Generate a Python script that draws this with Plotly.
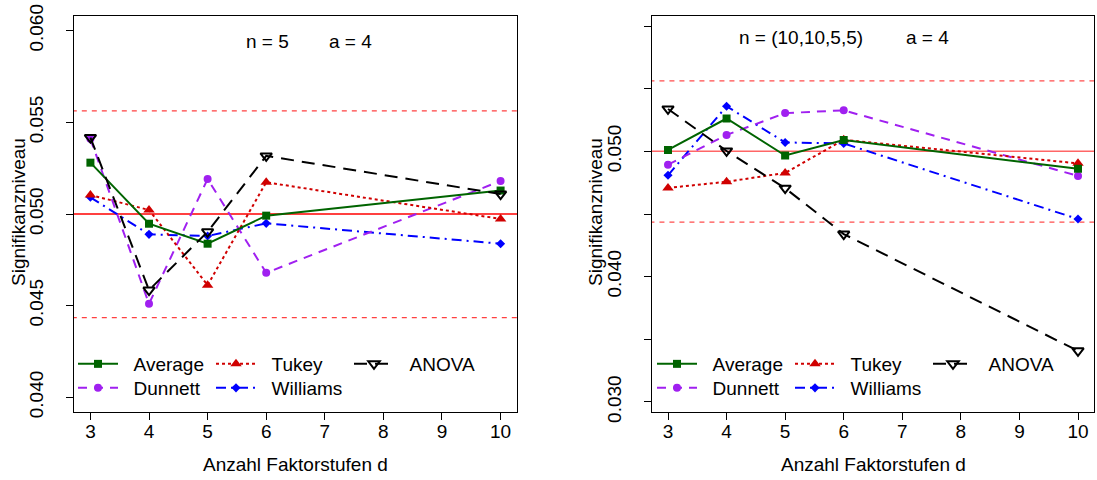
import plotly.graph_objects as go

# Number of factor levels d
d_levels = [3, 4, 5, 6, 10]

# Left panel: n = 5, a = 4
left_average = [0.05280, 0.04947, 0.04838, 0.04991, 0.05128]
left_tukey = [0.05104, 0.05022, 0.04612, 0.05173, 0.04973]
left_anova = [0.05417, 0.04585, 0.04903, 0.05317, 0.05109]
left_dunnett = [0.05410, 0.04510, 0.05191, 0.04679, 0.05180]
left_williams = [0.05091, 0.04889, 0.04880, 0.04949, 0.04838]

# Right panel: n = (10,10,5,5), a = 4
right_average = [0.05011, 0.05262, 0.04967, 0.05090, 0.04861]
right_tukey = [0.04708, 0.04757, 0.04828, 0.05092, 0.04904]
right_anova = [0.05338, 0.05003, 0.04706, 0.04340, 0.03408]
right_dunnett = [0.04894, 0.05131, 0.05305, 0.05327, 0.04804]
right_williams = [0.04809, 0.05360, 0.05071, 0.05063, 0.04460]

# Nominal level and acceptance band
alpha = 0.05
band = [0.04435, 0.05563]

x_ticks = [3, 4, 5, 6, 7, 8, 9, 10]
left_yticks = [0.040, 0.045, 0.050, 0.055, 0.060]
left_yticktext = ["0.040", "0.045", "0.050", "0.055", "0.060"]
right_yticks = [0.030, 0.035, 0.040, 0.045, 0.050, 0.055, 0.060]
right_yticktext = ["0.030", "", "0.040", "", "0.050", "", "0.060"]

FONT = "Liberation Sans, Arial, sans-serif"
W, H = 1097, 480
NB = "\u00a0\u00a0"

styles = {
    "Average": dict(color="#006400", dash="solid", symbol="square", size=8, mline=0),
    "Tukey": dict(color="#D00000", dash="dot", symbol="triangle-up", size=10, mline=0),
    "ANOVA": dict(color="black", dash="13px,8px", symbol="triangle-down-open", size=10, mline=2),
    "Dunnett": dict(color="#A020F0", dash="9px,7px", symbol="circle", size=8, mline=0),
    "Williams": dict(color="#0000FF", dash="10px,5px,2px,5px", symbol="diamond", size=7, mline=0),
}
legend_order = {"Average": 1, "Tukey": 2, "ANOVA": 3, "Dunnett": 4, "Williams": 5}

fig = go.Figure()

panels = [
    dict(xa="x", ya="y", legends=("legend", "legend2"),
         data={"Average": left_average, "Tukey": left_tukey, "ANOVA": left_anova,
               "Dunnett": left_dunnett, "Williams": left_williams},
         hcol="red", bcol="rgba(255,0,0,0.75)"),
    dict(xa="x2", ya="y2", legends=("legend3", "legend4"),
         data={"Average": right_average, "Tukey": right_tukey, "ANOVA": right_anova,
               "Dunnett": right_dunnett, "Williams": right_williams},
         hcol="rgba(255,0,0,0.6)", bcol="rgba(255,0,0,0.7)"),
]

for p in panels:
    # reference lines
    fig.add_trace(go.Scatter(x=[2.0, 11.0], y=[alpha, alpha], mode="lines",
                             line=dict(color=p["hcol"], width=1.5),
                             xaxis=p["xa"], yaxis=p["ya"], showlegend=False, hoverinfo="skip"))
    for b in band:
        fig.add_trace(go.Scatter(x=[2.0, 11.0], y=[b, b], mode="lines",
                                 line=dict(color=p["bcol"], width=1.3, dash="5px,5px"),
                                 xaxis=p["xa"], yaxis=p["ya"], showlegend=False, hoverinfo="skip"))
    for name in ["Williams", "Dunnett", "Tukey", "Average", "ANOVA"]:
        s = styles[name]
        leg = p["legends"][0] if name in ("Average", "Tukey", "ANOVA") else p["legends"][1]
        fig.add_trace(go.Scatter(
            x=d_levels, y=p["data"][name], mode="lines+markers", name=NB + name,
            line=dict(color=s["color"], width=2, dash=s["dash"]),
            marker=dict(symbol=s["symbol"], size=s["size"], color=s["color"],
                        line=dict(width=s["mline"], color=s["color"])),
            xaxis=p["xa"], yaxis=p["ya"], legend=leg, legendrank=legend_order[name],
        ))

axis_common = dict(
    showline=True, mirror=True, linecolor="black", linewidth=1,
    ticks="outside", ticklen=7, tickwidth=1, tickcolor="black", automargin=False,
    showgrid=False, zeroline=False, tickfont=dict(family=FONT, size=19, color="black"),
)

def xdom(a, b):
    return [a / W, b / W]

ydom = [(H - 412) / H, (H - 16) / H]

fig.update_layout(
    width=W, height=H,
    margin=dict(l=0, r=0, t=0, b=0, autoexpand=False),
    paper_bgcolor="white", plot_bgcolor="white",
    font=dict(family=FONT, size=19, color="black"),
    xaxis=dict(domain=xdom(74, 517), range=[2.72, 10.28], tickvals=x_ticks, anchor="y",
               ticklabelstandoff=-5, **axis_common),
    yaxis=dict(domain=ydom, range=[0.0392, 0.0608], tickvals=left_yticks, ticktext=left_yticktext,
               tickangle=-90, ticklabelstandoff=15, anchor="x", **axis_common),
    xaxis2=dict(domain=xdom(651.6, 1094.4), range=[2.72, 10.28], tickvals=x_ticks, anchor="y2",
                ticklabelstandoff=-5, **axis_common),
    yaxis2=dict(domain=ydom, range=[0.0292, 0.0608], tickvals=right_yticks, ticktext=right_yticktext,
                tickangle=-90, ticklabelstandoff=15, anchor="x2", **axis_common),
    showlegend=True,
)

legend_common = dict(orientation="h", bgcolor="rgba(0,0,0,0)", borderwidth=0,
                     font=dict(family=FONT, size=19, color="black"),
                     entrywidth=83, entrywidthmode="pixels", itemwidth=40,
                     xanchor="left", yanchor="middle", traceorder="normal")
fig.update_layout(
    legend=dict(x=73 / W, y=(H - 364) / H, **legend_common),
    legend2=dict(x=73 / W, y=(H - 388) / H, **legend_common),
    legend3=dict(x=652 / W, y=(H - 364) / H, **legend_common),
    legend4=dict(x=652 / W, y=(H - 388) / H, **legend_common),
)

ann_font = dict(family=FONT, size=19, color="black")

# panel headers
fig.add_annotation(x=6.02, y=0.05942, xref="x", yref="y", text="n = 5", showarrow=False,
                   xanchor="center", yanchor="middle", font=ann_font)
fig.add_annotation(x=7.43, y=0.05942, xref="x", yref="y", text="a = 4", showarrow=False,
                   xanchor="center", yanchor="middle", font=ann_font)
fig.add_annotation(x=5.27, y=0.0591, xref="x2", yref="y2", text="n = (10,10,5,5)", showarrow=False,
                   xanchor="center", yanchor="middle", font=ann_font)
fig.add_annotation(x=7.43, y=0.0591, xref="x2", yref="y2", text="a = 4", showarrow=False,
                   xanchor="center", yanchor="middle", font=ann_font)

# axis titles
for cx in (295.5 / W, 873 / W):
    fig.add_annotation(x=cx, y=(H - 464) / H, xref="paper", yref="paper", text="Anzahl Faktorstufen d",
                       showarrow=False, xanchor="center", yanchor="middle", font=ann_font)
for cx in (18 / W, 595 / W):
    fig.add_annotation(x=cx, y=(H - 212) / H, xref="paper", yref="paper", text="Signifikanzniveau",
                       textangle=-90, showarrow=False, xanchor="center", yanchor="middle", font=ann_font)

fig.write_html("out.html")
